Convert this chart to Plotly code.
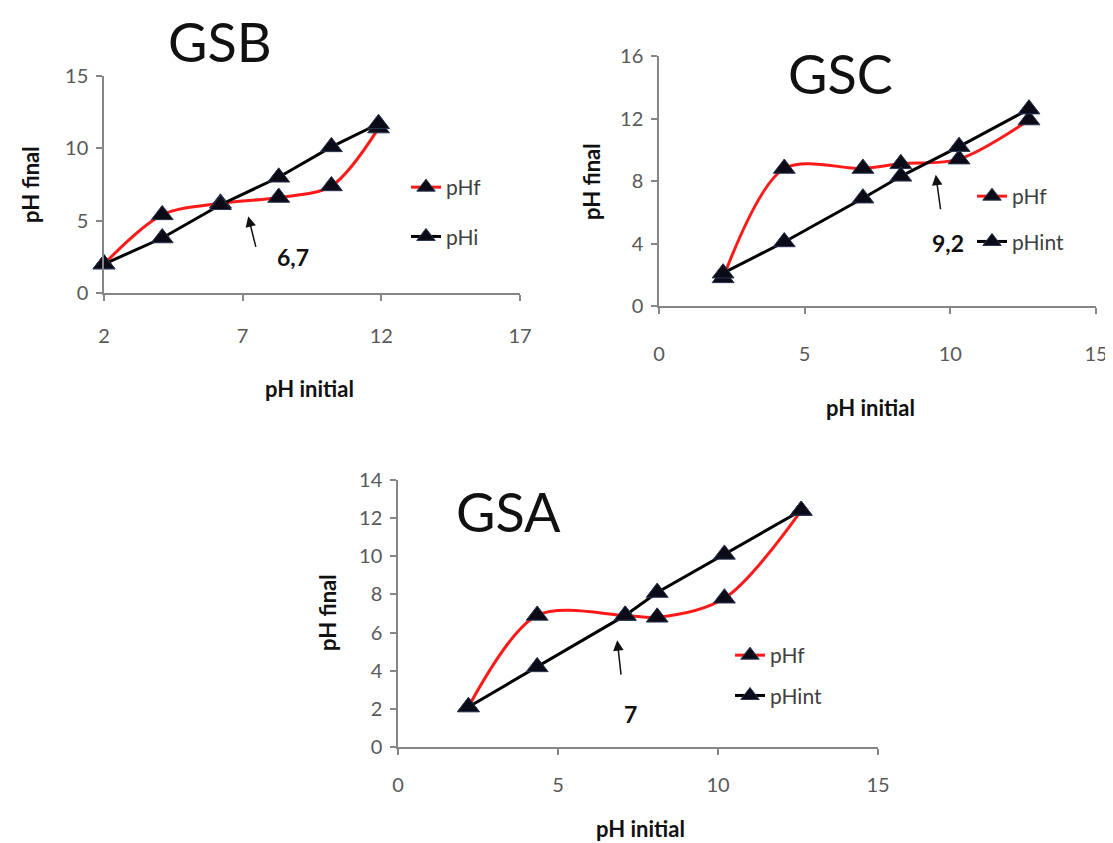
import plotly.graph_objects as go

# ---------------- data ----------------
# GSB
gsb_x = [2.0, 4.1, 6.2, 8.3, 10.2, 11.9]
gsb_phf = [2.0, 5.4, 6.2, 6.6, 7.4, 11.4]
gsb_phi = [2.0, 3.8, 6.1, 8.0, 10.1, 11.7]
# GSC
gsc_x = [2.2, 4.3, 7.0, 8.3, 10.3, 12.7]
gsc_phf = [1.8, 8.8, 8.8, 9.1, 9.4, 11.9]
gsc_phint = [2.1, 4.1, 6.9, 8.3, 10.2, 12.6]
# GSA
gsa_x = [2.2, 4.35, 7.1, 8.1, 10.2, 12.6]
gsa_phf = [2.1, 6.9, 6.9, 6.8, 7.8, 12.4]
gsa_phint = [2.1, 4.2, 6.9, 8.1, 10.1, 12.4]

# axis ticks
gsb_xticks = [2, 7, 12, 17]
gsb_yticks = [0, 5, 10, 15]
gsc_xticks = [0, 5, 10, 15]
gsc_yticks = [0, 4, 8, 12, 16]
gsa_xticks = [0, 5, 10, 15]
gsa_yticks = [0, 2, 4, 6, 8, 10, 12, 14]

OFF = 8  # page body margin
W, H = 1113 - OFF, 843 - OFF
FONT = "Lato"
RED = "#ff1a1a"
BLK = "#000000"
MK = dict(symbol="triangle-up", size=19, color="#0b0b18",
          line=dict(color="#2a3550", width=1))


def px(x):
    return (x - OFF) / W


def py(y):
    return 1 - (y - OFF) / H


fig = go.Figure()


def add_pair(x, yf, yi, xa, ya, leg, name_i):
    fig.add_trace(go.Scatter(x=x, y=yf, mode="lines+markers", name="pHf",
                             line=dict(color=RED, width=3, shape="spline", smoothing=0.9),
                             marker=MK, xaxis=xa, yaxis=ya, legend=leg,
                             legendgroup=leg + "f", cliponaxis=False))
    fig.add_trace(go.Scatter(x=x, y=yi, mode="lines+markers", name=name_i,
                             line=dict(color=BLK, width=3),
                             marker=MK, xaxis=xa, yaxis=ya, legend=leg,
                             legendgroup=leg + "i", cliponaxis=False))


add_pair(gsb_x, gsb_phf, gsb_phi, "x", "y", "legend", "pHi")
add_pair(gsc_x, gsc_phf, gsc_phint, "x2", "y2", "legend2", "pHint")
add_pair(gsa_x, gsa_phf, gsa_phint, "x3", "y3", "legend3", "pHint")

axis_common = dict(showgrid=False, zeroline=False, showline=True, automargin=False,
                   linecolor="#868686", linewidth=1.5, ticks="outside",
                   ticklen=6, tickwidth=1.5, tickcolor="#868686",
                   tickfont=dict(family=FONT, size=20, color="#595959"))


def xax(rng, ticks, dom, anchor, standoff):
    d = dict(axis_common)
    d.update(range=rng, tickvals=ticks, domain=dom, anchor=anchor,
             ticklabelstandoff=standoff)
    return d


def yax(rng, ticks, dom, anchor):
    d = dict(axis_common)
    d.update(range=rng, tickvals=ticks, domain=dom, anchor=anchor,
             ticklabelstandoff=4)
    return d


def legend_at(x, y, gap):
    return dict(bgcolor="rgba(0,0,0,0)", font=dict(family=FONT, size=21, color="#404040"),
                xanchor="left", yanchor="top", tracegroupgap=gap, itemwidth=30,
                x=px(x), y=py(y))


fig.update_layout(
    width=W, height=H, margin=dict(l=0, r=0, t=0, b=0, autoexpand=False),
    paper_bgcolor="white", plot_bgcolor="white",
    xaxis=xax([2, 17], gsb_xticks, [px(104), px(520)], "y", 18),
    yaxis=yax([0, 15], gsb_yticks, [py(293), py(76)], "x"),
    xaxis2=xax([0, 15], gsc_xticks, [px(659), px(1096)], "y2", 23),
    yaxis2=yax([0, 16], gsc_yticks, [py(306), py(56)], "x2"),
    xaxis3=xax([0, 15], gsa_xticks, [px(398), px(878)], "y3", 13),
    yaxis3=yax([0, 14], gsa_yticks, [py(747), py(480)], "x3"),
    legend=legend_at(406, 167, 19),
    legend2=legend_at(972, 176, 15),
    legend3=legend_at(730, 635, 10),
    showlegend=True,
)

ann = []
# titles
for txt, x, y in [("GSB", 220, 41), ("GSC", 840, 74), ("GSA", 508, 512)]:
    ann.append(dict(text=txt, x=px(x), y=py(y), xref="paper", yref="paper",
                    xanchor="center", yanchor="middle",
                    showarrow=False, font=dict(family=FONT, size=54, color="#111111")))
# axis titles
for x, y in [(30, 185), (592, 182), (327, 612)]:
    ann.append(dict(text="<b>pH final</b>", x=px(x), y=py(y), xref="paper", yref="paper",
                    xanchor="center", yanchor="middle",
                    showarrow=False, textangle=-90,
                    font=dict(family=FONT, size=22, color="#111111")))
for x, y in [(310, 388), (870, 407), (640, 828)]:
    ann.append(dict(text="<b>pH initial</b>", x=px(x), y=py(y), xref="paper", yref="paper",
                    xanchor="center", yanchor="middle",
                    showarrow=False, font=dict(family=FONT, size=22, color="#111111")))
# arrows
for x, y, xr, yr, ax, ay in [(7.2, 5.3, "x", "y", 8, 32),
                             (9.5, 8.4, "x2", "y2", 5, 36),
                             (6.85, 5.6, "x3", "y3", 4, 36)]:
    ann.append(dict(text="", x=x, y=y, xref=xr, yref=yr, ax=ax, ay=ay,
                    showarrow=True, arrowhead=2, arrowsize=1.4, arrowwidth=1.5,
                    arrowcolor="#111111"))
# crossing labels
for txt, x, y in [("6,7", 293, 257), ("9,2", 948, 243), ("7", 630, 714)]:
    ann.append(dict(text="<b>" + txt + "</b>", x=px(x), y=py(y), xref="paper", yref="paper",
                    xanchor="center", yanchor="middle",
                    showarrow=False, font=dict(family=FONT, size=23, color="#111111")))
fig.update_layout(annotations=ann)

fig.write_html("out.html")
